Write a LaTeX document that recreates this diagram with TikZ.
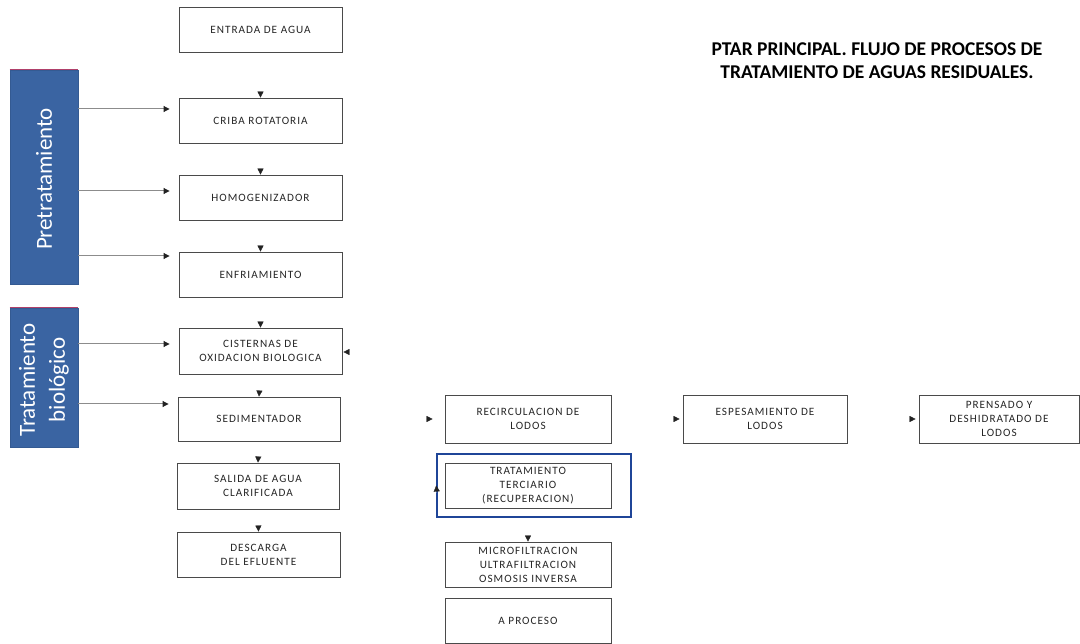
\documentclass[tikz,border=0pt]{standalone}
\usepackage{fontspec}
\setmainfont{Carlito}
\newfontfamily\boxfont[LetterSpace=9]{Carlito}
\usetikzlibrary{arrows.meta}
\definecolor{boxline}{HTML}{4A4A4A}
\definecolor{boxtext}{HTML}{262626}
\definecolor{barblue}{HTML}{3A64A2}
\definecolor{baredge}{HTML}{B0406A}
\definecolor{tercblue}{HTML}{1F4598}
\definecolor{tipcol}{HTML}{222222}
\begin{document}
\begin{tikzpicture}[x=1pt,y=-1pt,
  box/.style={draw=boxline, line width=0.9pt, fill=white, text=boxtext,
    font=\boxfont\fontsize{11.2}{14}\selectfont, align=center, inner sep=0pt,
    minimum width=163pt, minimum height=45pt},
  bar/.style={fill=barblue, draw=barblue!90!black, line width=0.6pt, inner sep=0pt, minimum width=68pt},
  bartext/.style={text=white, font=\fontsize{23}{30}\selectfont, align=center, rotate=90},
  topedge/.style={draw=baredge, line width=1pt},
  flow/.style={draw=white, line width=0.3pt, shorten <=1.5pt,
    -{Triangle[length=6pt,width=6pt,color=tipcol]}},
  side/.style={draw=gray!90, line width=1pt, shorten >=9pt,
    -{Triangle[length=6pt,width=6pt,color=tipcol]}},
  title/.style={font=\bfseries\fontsize{19.5}{23}\selectfont, align=center, text=black}
]
\useasboundingbox (0,0) rectangle (1080,644);

% left bars
\node[bar, minimum height=214pt] (pret) at (44,177) {};
\draw[topedge] (pret.north west) -- (pret.north east);
\node[bartext] (prett) at (44,179) {Pretratamiento};
\node[bar, minimum height=139pt] (trat) at (44,377.5) {};
\draw[topedge] (trat.north west) -- (trat.north east);
\node[bartext] (tratt) at (44,380) {Tratamiento\\biológico};

% column 1
\node[box] (entrada) at (260.5,29.5) {ENTRADA DE AGUA};
\node[box] (criba) at (260.5,120.5) {CRIBA ROTATORIA};
\node[box] (homog) at (260.5,197.5) {HOMOGENIZADOR};
\node[box] (enfri) at (260.5,274.5) {ENFRIAMIENTO};
\node[box, minimum height=46pt] (cist) at (260.5,351) {CISTERNAS DE\\OXIDACION BIOLOGICA};
\node[box, minimum width=162pt, minimum height=44pt] (sedim) at (259,419) {SEDIMENTADOR};
\node[box, minimum width=162pt, minimum height=46pt] (salida) at (258,486) {SALIDA DE AGUA\\CLARIFICADA};
\node[box] (desc) at (258.5,554.5) {DESCARGA\\DEL EFLUENTE};

% column 2
\node[draw=tercblue, line width=1.6pt, inner sep=0pt, minimum width=194pt, minimum height=63pt] (tercout) at (534,485.5) {};
\node[box, minimum width=166pt, minimum height=48pt] (recirc) at (528,419) {RECIRCULACION DE\\LODOS};
\node[box, minimum width=166pt, minimum height=45pt] (terc) at (528,485.5) {TRATAMIENTO\\TERCIARIO\\(RECUPERACION)};
\node[box, minimum width=166pt, minimum height=45pt] (micro) at (528,564.5) {MICROFILTRACION\\ULTRAFILTRACION\\OSMOSIS INVERSA};
\node[box, minimum width=166pt, minimum height=45pt] (aproc) at (528,620.5) {A PROCESO};

% column 3 / 4
\node[box, minimum width=164pt, minimum height=48pt] (esp) at (765,419) {ESPESAMIENTO DE\\LODOS};
\node[box, minimum width=160pt, minimum height=48pt] (prens) at (999,419) {PRENSADO Y\\DESHIDRATADO DE\\LODOS};

% title
\node[title] (tit) at (877,61) {PTAR PRINCIPAL. FLUJO DE PROCESOS DE\\TRATAMIENTO DE AGUAS RESIDUALES.};

% vertical flow arrows
\draw[flow] (entrada.south) -- (criba.north);
\draw[flow] (criba.south) -- (homog.north);
\draw[flow] (homog.south) -- (enfri.north);
\draw[flow] (enfri.south) -- (cist.north);
\draw[flow] (cist.south) -- (sedim.north);
\draw[flow] (sedim.south) -- (salida.north);
\draw[flow] (salida.south) -- (desc.north);
\draw[flow] (tercout.south -| terc.south) -- (micro.north);

% horizontal flow arrows
\draw[flow, shorten >=12pt] (sedim.east) -- (recirc.west);
\draw[flow, shorten >=3pt] (recirc.east) -- (esp.west);
\draw[flow, shorten >=3pt] (esp.east) -- (prens.west);
\coordinate (cin) at (356,352);
\draw[flow, shorten >=1pt] (cin) -- (cist.east |- cin);
\coordinate (tin) at (437,494);
\draw[flow, shorten >=0pt] (tin) -- (tercout.west);

% side arrows from stage bars
\draw[side] (pret.east |- 0,109) -- (criba.west |- 0,109);
\draw[side] (pret.east |- 0,191) -- (homog.west |- 0,191);
\draw[side] (pret.east |- 0,256) -- (enfri.west |- 0,256);
\draw[side] (trat.east |- 0,344) -- (cist.west |- 0,344);
\draw[side] (trat.east |- 0,404) -- (sedim.west |- 0,404);
\end{tikzpicture}
\end{document}
